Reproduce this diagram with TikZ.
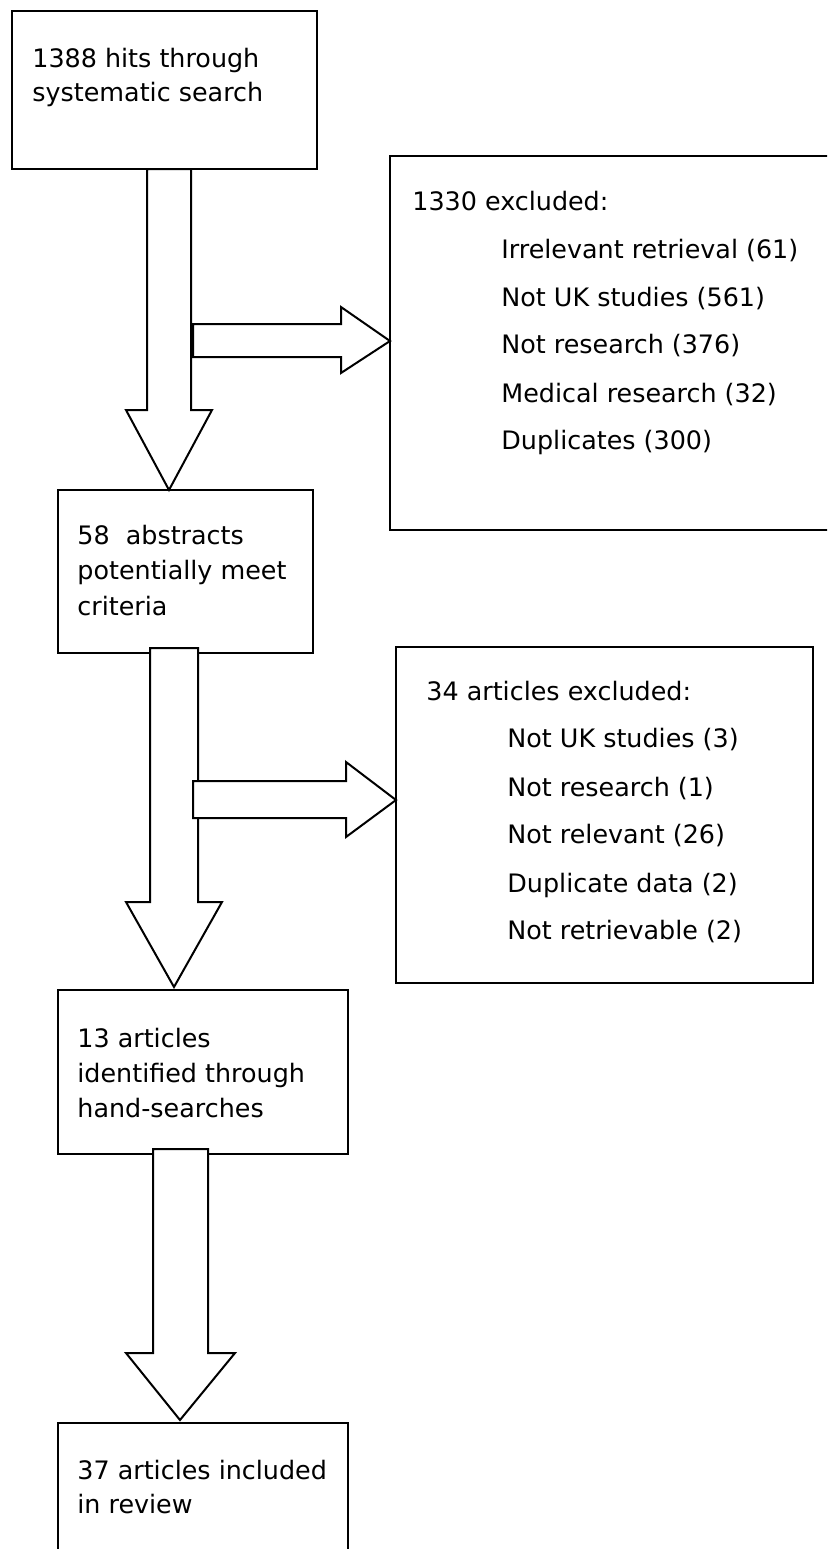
\documentclass[tikz,border=0pt]{standalone}
\usepackage{fontspec}
\setmainfont{DejaVu Sans}
\usetikzlibrary{fit}
\begin{document}
\begin{tikzpicture}[x=0.5pt,y=-0.5pt,
  box/.style={draw=black, line width=1pt, inner sep=0pt, fill=white},
  blockarrow/.style={draw=black, line width=1pt, fill=white, line join=miter},
  txt/.style={anchor=base west, inner sep=0pt, font=\fontsize{12.7}{15}\selectfont}]
\useasboundingbox (0,0) rectangle (827,1549);
\clip (0,0) rectangle (827,1549);
% boxes
\node[box, fit={(12,11)(317,169)}] (b1) {};
\node[box, fit={(390,156)(850,530)}] (x1) {};
\node[box, fit={(58,490)(313,653)}] (b2) {};
\node[box, fit={(396,647)(813,983)}] (x2) {};
\node[box, fit={(58,990)(348,1154)}] (b3) {};
\node[box, fit={(58,1423)(348,1580)}] (b4) {};
% texts
\node[txt] (t1a) at (32,67) {1388 hits through};
\node[txt] (t1b) at (32,101) {systematic search};
\node[txt] (e1) at (412,210) {1330 excluded:};
\node[txt] (e1a) at (501,258) {Irrelevant retrieval (61)};
\node[txt] (e1b) at (501,306) {Not UK studies (561)};
\node[txt] (e1c) at (501,353) {Not research (376)};
\node[txt] (e1d) at (501,402) {Medical research (32)};
\node[txt] (e1e) at (501,449) {Duplicates (300)};
\node[txt] (t2a) at (77,544) {58\ \ abstracts};
\node[txt] (t2b) at (77,579) {potentially meet};
\node[txt] (t2c) at (77,615) {criteria};
\node[txt] (e2) at (426,700) {34 articles excluded:};
\node[txt] (e2a) at (507,747) {Not UK studies (3)};
\node[txt] (e2b) at (507,796) {Not research (1)};
\node[txt] (e2c) at (507,843) {Not relevant (26)};
\node[txt] (e2d) at (507,892) {Duplicate data (2)};
\node[txt] (e2e) at (507,939) {Not retrievable (2)};
\node[txt] (t3a) at (77,1047) {13 articles};
\node[txt] (t3b) at (77,1082) {identified through};
\node[txt] (t3c) at (77,1117) {hand-searches};
\node[txt] (t4a) at (77,1479) {37 articles included};
\node[txt] (t4b) at (77,1513) {in review};
% block arrows
\draw[blockarrow] (147,169) -- (147,410) -- (126,410) -- (169,490) -- (212,410) -- (191,410) -- (191,169) -- cycle;
\draw[blockarrow] (193,324) -- (341,324) -- (341,307) -- (390,341) -- (341,373) -- (341,357) -- (193,357) -- cycle;
\draw[blockarrow] (150,648) -- (150,902) -- (126,902) -- (174,987) -- (222,902) -- (198,902) -- (198,648) -- cycle;
\draw[blockarrow] (193,781) -- (346,781) -- (346,762) -- (396,800) -- (346,837) -- (346,818) -- (193,818) -- cycle;
\draw[blockarrow] (153,1149) -- (153,1353) -- (126,1353) -- (180,1420) -- (235,1353) -- (208,1353) -- (208,1149) -- cycle;
\end{tikzpicture}
\end{document}
